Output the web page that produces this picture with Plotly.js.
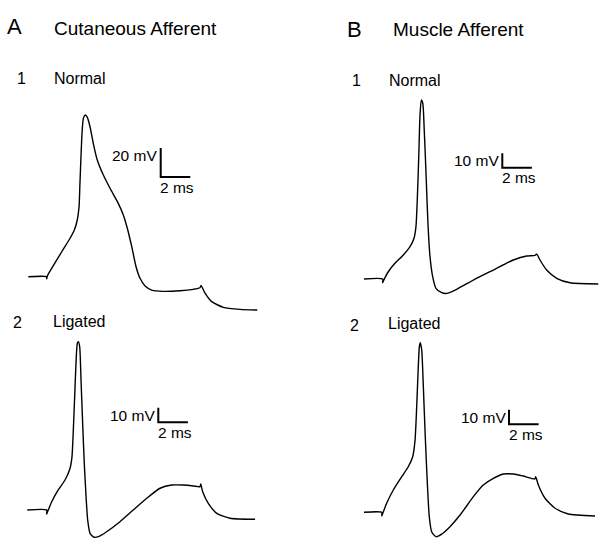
<!DOCTYPE html>
<html>
<head>
<meta charset="utf-8">
<script src="https://cdn.plot.ly/plotly-3.0.1.min.js"></script>
<style>html,body{margin:0;padding:0;background:#fff;}#chart{width:612px;height:548px;}</style>
</head>
<body>
<div id="chart"></div>
<script>
// ---- Data (time in ms from start of sweep, membrane potential in mV relative to resting baseline) ----
const panelLetters = ["A", "B"];
const panelTitles = ["Cutaneous Afferent", "Muscle Afferent"];
const rowNumbers = ["1", "2"];
const rowLabels = ["Normal", "Ligated"];

const cutNormalTime = [0, 1.24, 1.24, 1.30, 1.69, 2.26, 2.82, 3.11, 3.31, 3.43, 3.49, 3.56, 3.63, 3.72, 3.85, 3.99, 4.17, 4.39, 4.66, 5.07, 5.52, 6.08, 6.42, 6.69, 6.99, 7.28, 7.55, 7.89, 8.34, 9.12, 10.25, 11.15, 11.60, 11.67, 11.94, 12.39, 13.18, 14.31, 15.47];
const cutNormalVolt = [0, 0, -1.5, 0.8, 7.6, 17.2, 26.5, 32.2, 39.1, 48.3, 64.4, 82.8, 98.9, 109.2, 111.5, 109.9, 103.4, 92.0, 80.5, 70.1, 61.0, 50.6, 42.6, 33.4, 20.7, 6.9, -1.1, -6.4, -9.2, -10.1, -9.7, -8.7, -7.6, -6.0, -11.4, -17.2, -21.1, -22.5, -23.0];

const musNormalTime = [0, 1.26, 1.26, 1.30, 1.64, 2.09, 2.66, 3.11, 3.38, 3.51, 3.60, 3.70, 3.78, 3.87, 3.97, 4.07, 4.19, 4.32, 4.46, 4.64, 4.86, 5.25, 5.59, 6.26, 7.39, 8.74, 10.09, 10.99, 11.55, 11.67, 11.89, 12.34, 13.02, 13.92, 15.83];
const musNormalVolt = [0, 0, -2.5, -1.5, 5.0, 10.8, 16.6, 22.3, 28.1, 36.1, 54.5, 84.4, 111.9, 123.4, 121.2, 102.8, 72.9, 38.4, 15.4, 1.6, -6.4, -9.4, -9.9, -7.1, -0.7, 6.2, 13.1, 15.9, 16.3, 17.2, 13.1, 6.2, 0.5, -2.6, -3.4];

const cutLigTime = [0, 1.31, 1.31, 1.36, 1.65, 2.09, 2.55, 2.89, 3.02, 3.11, 3.20, 3.29, 3.38, 3.45, 3.54, 3.63, 3.74, 3.85, 3.97, 4.08, 4.24, 4.51, 4.80, 5.36, 6.26, 7.16, 8.07, 8.97, 9.76, 10.54, 11.22, 11.67, 11.72, 11.85, 12.23, 12.80, 13.70, 15.39];
const cutLigVolt = [0, 0, -2.8, -1.5, 5.7, 13.8, 20.7, 28.8, 36.8, 55.2, 78.1, 101.2, 115.0, 116.1, 112.6, 89.7, 59.8, 32.2, 9.2, -6.9, -16.1, -18.8, -18.4, -15.0, -8.1, 0, 8.1, 15.0, 17.2, 17.2, 16.6, 16.1, 17.9, 12.6, 4.6, -2.3, -5.7, -6.4];

const musLigTime = [0, 1.20, 1.20, 1.25, 1.53, 1.98, 2.55, 2.99, 3.29, 3.45, 3.56, 3.65, 3.74, 3.80, 3.90, 4.01, 4.14, 4.28, 4.41, 4.57, 4.86, 5.25, 5.81, 6.49, 7.39, 8.06, 8.74, 9.41, 10.09, 10.76, 11.55, 11.60, 11.78, 12.23, 12.91, 13.80, 15.61];
const musLigVolt = [0, 0, -2.5, -1.2, 6.2, 15.4, 24.6, 31.4, 38.3, 49.9, 72.8, 95.9, 114.2, 117.0, 111.9, 86.6, 52.1, 20.0, -3.0, -13.4, -16.8, -15.0, -9.9, -1.9, 10.8, 18.8, 23.4, 26.4, 26.4, 25.0, 23.0, 24.6, 18.8, 9.7, 2.8, -1.2, -2.6];

// scale bars: voltage size (mV) and time size (ms) for each panel (A1, B1, A2, B2)
const scaleBarMV = [20, 10, 10, 10];
const scaleBarMS = [2, 2, 2, 2];
const scaleBarLabelMV = ["20 mV", "10 mV", "10 mV", "10 mV"];
const scaleBarLabelMS = ["2 ms", "2 ms", "2 ms", "2 ms"];

// ---- Layout geometry (pixels) ----
const W = 612, H = 548;
const SX = 14.8;  // px per ms
const SY = 1.45;  // px per mV
const FONT = "Liberation Sans, Arial, Helvetica, sans-serif";

// origin (pixel position of t=0, V=0) of each panel: A1, B1, A2, B2
const origins = [
  {x0: 28.3, y0: 276.7},
  {x0: 364.0, y0: 279.0},
  {x0: 27.3, y0: 510.0},
  {x0: 364.0, y0: 512.3}
];
// scale bar corner (pixel) per panel
const barCorner = [
  {x: 160.7, y: 177.0},
  {x: 502.3, y: 167.7},
  {x: 158.3, y: 422.3},
  {x: 509.0, y: 424.3}
];

const series = [
  [cutNormalTime, cutNormalVolt],
  [musNormalTime, musNormalVolt],
  [cutLigTime, cutLigVolt],
  [musLigTime, musLigVolt]
];

function xr(x0) { return [-x0 / SX, (W - x0) / SX]; }
function yr(y0) { return [-(H - y0) / SY, y0 / SY]; }
function px(x) { return x / W; }
function py(y) { return 1 - y / H; }

const data = [];
const layout = {
  width: W, height: H,
  margin: {l: 0, r: 0, t: 0, b: 0},
  paper_bgcolor: "#ffffff",
  plot_bgcolor: "rgba(0,0,0,0)",
  showlegend: false,
  shapes: [],
  annotations: []
};

series.forEach((s, i) => {
  const n = i + 1;
  const xa = n === 1 ? "x" : "x" + n;
  const ya = n === 1 ? "y" : "y" + n;
  data.push({
    type: "scatter", mode: "lines",
    x: s[0], y: s[1],
    xaxis: xa, yaxis: ya,
    line: {color: "#000000", width: 1.4, shape: "spline", smoothing: 0.6},
    hoverinfo: "skip"
  });
  const axBase = {visible: false, showgrid: false, zeroline: false, fixedrange: true, domain: [0, 1]};
  const xAx = Object.assign({}, axBase, {range: xr(origins[i].x0), anchor: ya});
  const yAx = Object.assign({}, axBase, {range: yr(origins[i].y0), anchor: xa});
  if (n > 1) { xAx.overlaying = "x"; yAx.overlaying = "y"; }
  layout[n === 1 ? "xaxis" : "xaxis" + n] = xAx;
  layout[n === 1 ? "yaxis" : "yaxis" + n] = yAx;

  // scale bar in data coordinates of this panel
  const tb = (barCorner[i].x - origins[i].x0) / SX;
  const vb = (origins[i].y0 - barCorner[i].y) / SY;
  layout.shapes.push({
    type: "path", xref: xa, yref: ya,
    path: `M ${tb} ${vb + scaleBarMV[i]} L ${tb} ${vb} L ${tb + scaleBarMS[i]} ${vb}`,
    line: {color: "#000000", width: 2}
  });
  // scale bar labels
  layout.annotations.push({
    xref: "paper", yref: "paper",
    x: px(barCorner[i].x - 1.5), y: py(barCorner[i].y - (i === 0 ? 22 : 7)),
    xanchor: "right", yanchor: "middle", showarrow: false,
    text: scaleBarLabelMV[i], font: {family: FONT, size: 15.5, color: "#000"}
  });
  layout.annotations.push({
    xref: "paper", yref: "paper",
    x: px(barCorner[i].x - 2.5), y: py(barCorner[i].y + 10),
    xanchor: "left", yanchor: "middle", showarrow: false,
    text: scaleBarLabelMS[i], font: {family: FONT, size: 15.5, color: "#000"}
  });
});

// panel letters and titles
const letterPos = [{x: 5, y: 27}, {x: 345, y: 30}];
const titlePos = [{x: 51.5, y: 28}, {x: 391.5, y: 30}];
panelLetters.forEach((L, j) => {
  layout.annotations.push({
    xref: "paper", yref: "paper", x: px(letterPos[j].x), y: py(letterPos[j].y),
    xanchor: "left", yanchor: "middle", showarrow: false,
    text: L, font: {family: FONT, size: 22, color: "#000"}
  });
  layout.annotations.push({
    xref: "paper", yref: "paper", x: px(titlePos[j].x), y: py(titlePos[j].y),
    xanchor: "left", yanchor: "middle", showarrow: false,
    text: panelTitles[j], font: {family: FONT, size: 19, color: "#000"}
  });
});

// row numbers and labels: A1, B1, A2, B2
const numPos = [{x: 14.5, y: 79}, {x: 350, y: 80.5}, {x: 10.5, y: 322.5}, {x: 347.5, y: 325}];
const labPos = [{x: 51.5, y: 79}, {x: 387, y: 80.5}, {x: 50.5, y: 321.5}, {x: 386, y: 323.5}];
numPos.forEach((p, i) => {
  const r = i < 2 ? 0 : 1;
  layout.annotations.push({
    xref: "paper", yref: "paper", x: px(p.x), y: py(p.y),
    xanchor: "left", yanchor: "middle", showarrow: false,
    text: rowNumbers[r], font: {family: FONT, size: 16, color: "#000"}
  });
  layout.annotations.push({
    xref: "paper", yref: "paper", x: px(labPos[i].x), y: py(labPos[i].y),
    xanchor: "left", yanchor: "middle", showarrow: false,
    text: rowLabels[r], font: {family: FONT, size: 16, color: "#000"}
  });
});

Plotly.newPlot("chart", data, layout, {staticPlot: true, displayModeBar: false});
</script>
</body>
</html>
